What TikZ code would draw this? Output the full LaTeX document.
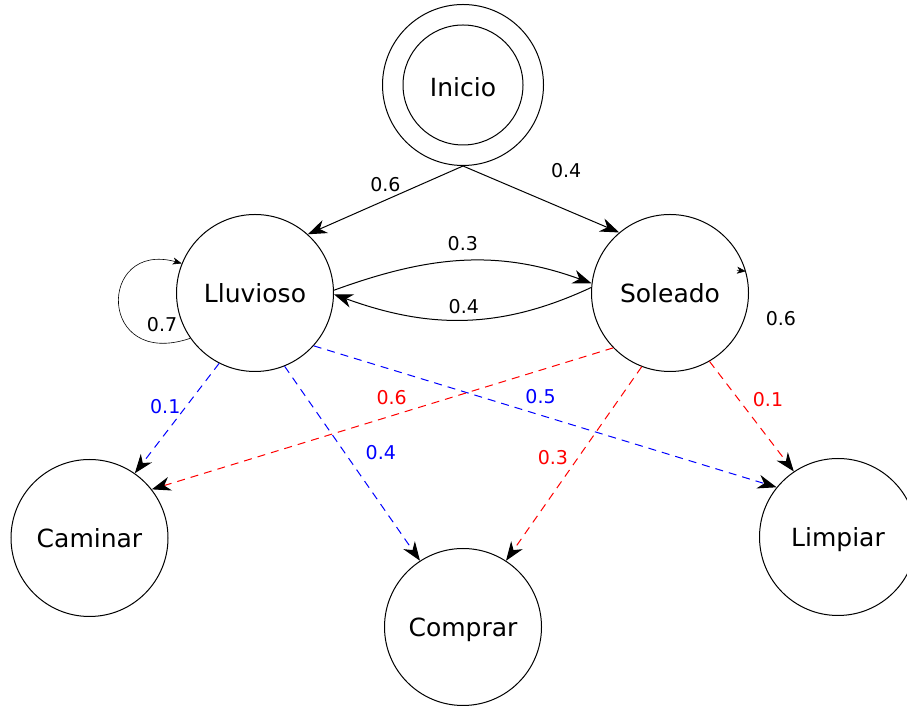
\documentclass[tikz,border=0pt]{standalone}
\usepackage{fontspec}
\setmainfont{DejaVu Sans}
\usetikzlibrary{arrows.meta, shapes.geometric}

\begin{document}
\begin{tikzpicture}[
    x=1pt, y=1pt,
    state/.style={circle, draw, line width=1pt, minimum size=157pt, inner sep=0pt, text height=18.2pt, text depth=0pt, font=\fontsize{25}{30}\selectfont},
    arrow/.style={-{Stealth[length=19pt, width=14pt, inset=6pt, color=black]}, line width=1pt},
    smallarrow/.style={-{Stealth[length=9pt, width=7pt, inset=2.5pt, color=black]}, line width=0.6pt},
    rain/.style={arrow, blue, dash pattern=on 8pt off 6pt},
    sun/.style={arrow, red, dash pattern=on 8pt off 6pt},
    prob/.style={font=\fontsize{19}{23}\selectfont, inner sep=0pt}
  ]
  \useasboundingbox (0,0) rectangle (907,706);

  % Start state (double ring)
  \node[state, minimum size=161pt, text height=24pt] (inicio) at (463,621) {Inicio};
  \draw[line width=1pt] (inicio.center) circle[radius=60];

  % Hidden states
  \node[state] (lluvioso) at (255,413) {Lluvioso};
  \node[state] (soleado) at (670,413) {Soleado};

  % Observations
  \node[state] (caminar) at (89.5,168) {Caminar};
  \node[state] (comprar) at (463,79) {Comprar};
  \node[state] (limpiar) at (838,169) {Limpiar};

  % Initial probabilities
  \draw[arrow] (inicio.south) -- node[prob, pos=0.5, yshift=16pt] {0.6} (lluvioso.48);
  \draw[arrow] (inicio.south) -- node[prob, pos=0.66, yshift=39pt] {0.4} (soleado.130);

  % Transitions
  \draw[arrow] (lluvioso.2) to[out=20, in=160] node[prob, midway, yshift=17pt] {0.3} (soleado.173);
  \draw[arrow] (soleado.176) to[out=205, in=-20] node[prob, midway, yshift=13pt] {0.4} (lluvioso.-1);
  \draw[smallarrow] (lluvioso.215) .. controls (97,336) and (97,466) .. node[prob, pos=0.1, xshift=-3pt, yshift=19pt] {0.7} (lluvioso.158);
  \draw[smallarrow] ([xshift=-9pt, yshift=1pt]soleado.16) -- node[prob, pos=1, xshift=35pt, yshift=-47pt] {0.6} (soleado.16);

  % Emissions from Lluvioso
  \draw[rain] (lluvioso.243) -- node[prob, blue, pos=0.39, xshift=-21pt] {0.1} (caminar.55);
  \draw[rain] (lluvioso.292) -- node[prob, blue, pos=0.445, xshift=36pt] {0.4} (comprar.123);
  \draw[rain] (lluvioso.318) -- node[prob, blue, pos=0.49, yshift=19pt] {0.5} (limpiar.141);

  % Emissions from Soleado
  \draw[sun] (soleado.224) -- node[prob, red, pos=0.48, yshift=18pt] {0.6} (caminar.38);
  \draw[sun] (soleado.249) -- node[prob, red, pos=0.47, xshift=-25pt] {0.3} (comprar.57);
  \draw[sun] (soleado.300) -- node[prob, red, pos=0.35, xshift=29pt] {0.1} (limpiar.124);

\end{tikzpicture}
\end{document}
